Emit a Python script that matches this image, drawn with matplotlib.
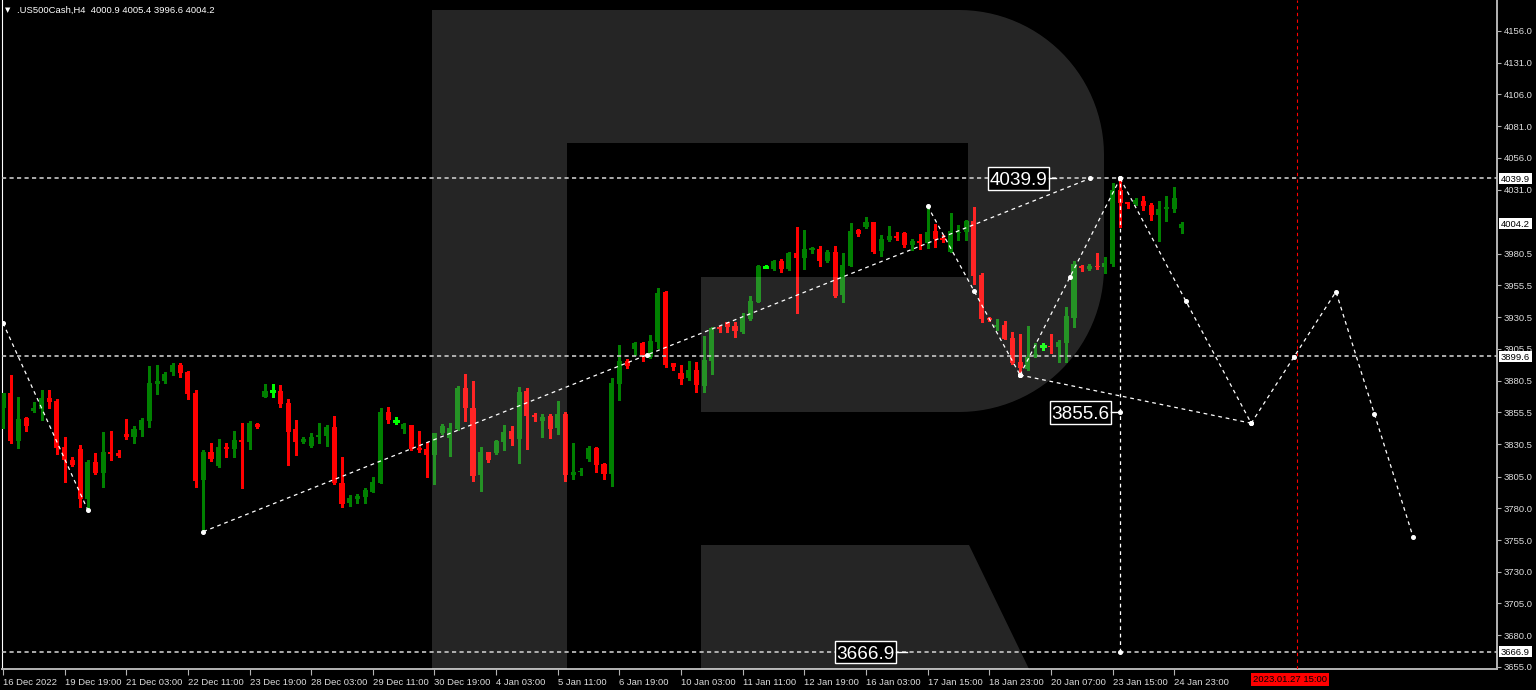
import numpy as np
import matplotlib
matplotlib.use("Agg")
import matplotlib.pyplot as plt
from matplotlib.patches import Rectangle, Polygon
from matplotlib.transforms import Affine2D, blended_transform_factory

plt.rcParams["font.family"] = ["Liberation Sans", "DejaVu Sans"]
SMALL = 6.8

# H4 candles (bar 0 = 16 Dec 2022 ... bar 153 = 25 Jan 03:00)
opens = [3858.8, 3870.6, 3833.0, 3851.2, 3856.7, 3858.0, 3867.2, 3864.5, 3828.3, 3818.3,
         3826.7, 3787.3, 3816.8, 3807.8, 3824.4, 3823.6, 3838.8, 3835.9, 3842.0, 3848.8,
         3877.7, 3880.3, 3887.7, 3892.9, 3887.4, 3870.6, 3802.6, 3824.4, 3813.6, 3828.6,
         3826.7, 3833.8, 3832.2, 3846.4, 3868.0, 3872.0, 3872.4, 3863.2, 3842.2, 3832.5,
         3829.1, 3836.4, 3837.2, 3844.1, 3800.2, 3783.9, 3787.3, 3788.7, 3793.1, 3800.2,
         3856.1, 3849.0, 3842.4, 3845.6, 3827.5, 3826.7, 3822.0, 3839.0, 3835.1, 3842.4,
         3874.7, 3858.7, 3806.2, 3824.3, 3823.3, 3832.5, 3840.9, 3834.3, 3872.4, 3853.5,
         3848.7, 3853.0, 3843.0, 3854.3, 3806.5, 3808.6, 3818.5, 3827.5, 3814.9, 3807.0,
         3877.9, 3896.0, 3905.5, 3910.2, 3898.9, 3911.2, 3950.4, 3894.2, 3886.6, 3882.4,
         3888.9, 3876.6, 3896.3, 3922.5, 3926.5, 3923.6, 3919.1, 3929.1, 3942.8, 3970.4,
         3968.2, 3975.1, 3968.5, 3980.9, 3976.9, 3983.5, 3984.3, 3974.8, 3982.2, 3948.3,
         3970.9, 3999.2, 4001.3, 4005.3, 3982.9, 3991.4, 3994.5, 3997.1, 3987.4, 3990.6,
         3989.3, 3998.2, 3993.2, 3982.2, 3996.6, 3997.9, 4006.3, 3963.8, 3930.2, 3922.6,
         3924.4, 3913.9, 3895.0, 3889.7, 3900.2, 3907.5, 3907.8, 3906.8, 3910.5, 3930.2,
         3971.1, 3968.2, 3970.6, 3970.3, 3972.2, 4030.7, 4021.0, 4019.5, 4022.3, 4018.9,
         4011.0, 4015.5, 4015.8, 4000.9]
highs = [3871.0, 3885.0, 3868.0, 3852.0, 3864.0, 3873.2, 3873.2, 3865.9, 3836.4, 3820.2,
         3829.9, 3818.1, 3823.8, 3839.9, 3841.2, 3825.9, 3850.4, 3844.9, 3850.9, 3892.4,
         3892.9, 3887.1, 3894.2, 3894.2, 3888.2, 3873.2, 3825.9, 3831.7, 3834.6, 3831.7,
         3841.2, 3847.5, 3848.5, 3847.5, 3877.9, 3877.9, 3877.1, 3865.9, 3849.6, 3836.4,
         3839.1, 3847.2, 3845.6, 3852.7, 3820.7, 3790.5, 3791.3, 3795.7, 3805.0, 3858.8,
         3860.1, 3851.7, 3847.4, 3846.0, 3841.1, 3832.5, 3839.6, 3846.4, 3846.9, 3876.3,
         3885.8, 3880.5, 3828.3, 3824.5, 3833.8, 3845.6, 3844.8, 3875.3, 3874.5, 3855.3,
         3854.3, 3854.3, 3864.5, 3856.1, 3831.2, 3811.7, 3829.0, 3828.0, 3815.4, 3882.9,
         3908.6, 3897.3, 3911.2, 3911.0, 3916.5, 3953.5, 3951.0, 3894.7, 3892.9, 3895.7,
         3895.2, 3915.7, 3923.1, 3923.6, 3927.0, 3927.0, 3933.6, 3947.2, 3971.7, 3971.7,
         3975.6, 3976.1, 3981.6, 4001.9, 3999.2, 3986.1, 3986.6, 3983.5, 3986.6, 3981.4,
         4005.0, 3999.8, 4009.7, 4005.8, 3995.3, 4002.6, 3997.9, 3997.9, 3991.9, 3995.8,
         4018.1, 4003.7, 3995.3, 4012.9, 4003.2, 4007.1, 4017.1, 3965.1, 3931.0, 3928.9,
         3927.8, 3919.1, 3917.0, 3923.6, 3910.5, 3910.0, 3917.0, 3912.6, 3938.3, 3975.1,
         3971.7, 3972.4, 3980.9, 3978.2, 4036.0, 4039.9, 4021.6, 4024.2, 4026.0, 4020.2,
         4022.3, 4026.0, 4032.8, 4005.4]
lows = [3843.0, 3831.7, 3827.8, 3841.2, 3856.1, 3849.6, 3859.3, 3822.5, 3801.0, 3813.0,
        3781.3, 3777.9, 3807.0, 3796.5, 3818.1, 3820.7, 3834.3, 3831.7, 3837.0, 3844.3,
        3870.1, 3879.0, 3885.0, 3883.7, 3866.1, 3797.1, 3761.6, 3817.5, 3812.3, 3820.7,
        3820.2, 3796.3, 3827.0, 3843.5, 3867.4, 3867.4, 3860.1, 3814.1, 3822.0, 3831.7,
        3828.6, 3831.7, 3829.1, 3798.9, 3781.3, 3782.1, 3783.9, 3784.5, 3792.6, 3799.7,
        3846.9, 3846.4, 3839.0, 3825.9, 3824.6, 3804.9, 3798.9, 3838.5, 3821.4, 3842.0,
        3848.7, 3801.5, 3793.6, 3816.7, 3822.7, 3825.9, 3829.8, 3815.4, 3826.7, 3848.7,
        3835.9, 3835.1, 3838.8, 3801.5, 3802.8, 3806.5, 3817.5, 3808.3, 3803.0, 3797.8,
        3865.3, 3890.5, 3900.5, 3895.7, 3898.5, 3906.0, 3891.5, 3888.9, 3877.6, 3881.0,
        3871.9, 3871.3, 3885.8, 3918.6, 3919.1, 3914.7, 3917.8, 3928.5, 3942.3, 3969.0,
        3967.7, 3965.9, 3967.7, 3933.6, 3968.5, 3980.9, 3971.1, 3974.3, 3946.7, 3942.2,
        3970.5, 3994.8, 4000.5, 3980.9, 3979.0, 3990.8, 3991.4, 3985.6, 3983.5, 3984.0,
        3984.8, 3986.1, 3990.0, 3981.5, 3991.4, 3991.4, 3956.7, 3926.5, 3927.5, 3920.5,
        3913.0, 3893.4, 3885.5, 3889.2, 3899.4, 3904.7, 3902.1, 3895.5, 3895.5, 3923.1,
        3967.2, 3967.7, 3968.2, 3965.1, 3971.1, 4001.9, 4016.3, 4018.9, 4015.0, 4007.1,
        3990.8, 4006.3, 4013.7, 3996.6]
closes = [3870.6, 3833.0, 3850.4, 3844.9, 3858.8, 3867.2, 3863.8, 3827.8, 3818.1, 3813.9,
          3787.3, 3816.8, 3807.6, 3824.4, 3823.1, 3821.5, 3835.9, 3842.5, 3849.6, 3878.5,
          3880.3, 3886.1, 3892.9, 3886.6, 3870.1, 3801.5, 3824.4, 3819.1, 3828.3, 3826.7,
          3833.8, 3832.5, 3847.5, 3844.1, 3872.4, 3872.0, 3862.2, 3840.4, 3832.5, 3834.6,
          3835.9, 3837.8, 3844.3, 3799.7, 3783.4, 3788.4, 3790.0, 3794.4, 3801.0, 3856.1,
          3849.6, 3849.0, 3846.1, 3826.7, 3825.9, 3822.0, 3839.0, 3845.1, 3843.2, 3874.5,
          3858.7, 3805.7, 3824.3, 3818.0, 3832.7, 3840.4, 3834.3, 3871.6, 3853.0, 3852.2,
          3851.6, 3842.4, 3854.3, 3806.2, 3808.6, 3809.6, 3827.5, 3814.1, 3807.0, 3878.4,
          3896.0, 3892.1, 3910.2, 3898.9, 3911.8, 3949.6, 3892.9, 3891.3, 3881.8, 3888.9,
          3877.1, 3896.8, 3922.3, 3921.0, 3923.1, 3919.9, 3930.2, 3943.3, 3970.9, 3970.4,
          3975.1, 3968.2, 3980.9, 3977.4, 3984.0, 3984.8, 3975.1, 3982.2, 3947.2, 3971.7,
          3998.7, 3996.1, 4005.3, 3982.2, 3992.1, 3994.8, 3992.7, 3987.4, 3990.8, 3989.3,
          3997.4, 3992.1, 3991.4, 3998.4, 3997.4, 4006.3, 3963.3, 3929.1, 3928.3, 3924.4,
          3913.4, 3894.2, 3890.3, 3899.4, 3901.5, 3907.5, 3906.8, 3911.3, 3931.7, 3972.4,
          3969.5, 3971.1, 3969.8, 3973.0, 4030.7, 4020.8, 4019.5, 4022.9, 4018.4, 4011.0,
          4015.8, 4017.1, 4024.7, 4004.2]

time_ticks = [0, 8, 16, 24, 32, 40, 48, 56, 64, 72, 80, 88, 96, 104, 112, 120, 128, 136, 144, 152]
time_labels = ["16 Dec 2022", "19 Dec 19:00", "21 Dec 03:00", "22 Dec 11:00", "23 Dec 19:00",
               "28 Dec 03:00", "29 Dec 11:00", "30 Dec 19:00", "4 Jan 03:00", "5 Jan 11:00",
               "6 Jan 19:00", "10 Jan 03:00", "11 Jan 11:00", "12 Jan 19:00", "16 Jan 03:00",
               "17 Jan 15:00", "18 Jan 23:00", "20 Jan 07:00", "23 Jan 15:00", "24 Jan 23:00"]
price_ticks = [4156.0, 4131.0, 4106.0, 4081.0, 4056.0, 4031.0, 3980.5, 3955.5, 3930.5,
               3905.5, 3880.5, 3855.5, 3830.5, 3805.0, 3780.0, 3755.0, 3730.0, 3705.0,
               3680.0, 3655.0]

# levels and forecast
levels = [4039.9, 3899.6, 3666.9]
last_price = 4004.2
target_mid = 3855.6
forecast_bar = 168
forecast_time = "2023.01.27 15:00"

left_x, left_y = [0, 11], [3926.0, 3778.7]
trend_x, trend_y = [26, 141.1], [3761.6, 4039.9]
drop_x, drop_y = [120, 132], [4018.1, 3885.0]
rise_x, rise_y = [132, 145], [3885.0, 4039.9]
base_x, base_y = [132, 162], [3885.0, 3847.0]
wave_x, wave_y = [145, 162, 173, 183], [4039.9, 3847.0, 3950.6, 3757.6]

W, H = 1536, 690
fig = plt.figure(figsize=(W / 100, H / 100), dpi=100, facecolor="black")
ax = fig.add_axes([2 / W, 21 / H, 1495 / W, 669 / H])
ax.set_facecolor("black")
ax.set_xlim(-0.13, 193.9)
ax.set_ylim(3653.4, 4180.4)

o = np.array(opens); h = np.array(highs); l = np.array(lows); c = np.array(closes)
idx = np.arange(len(o))
doji = o == c
up = (c > o) & ~doji
down = c < o
lo = np.minimum(o, c)
bh = np.maximum(np.abs(c - o), 0.8)

for m, col in [(up, "#008000"), (down, "#ff0000")]:
    ax.vlines(idx[m], l[m], h[m], color=col, lw=0.8, zorder=3, antialiased=False)
    ax.bar(idx[m], bh[m], bottom=lo[m], width=0.66, color=col, lw=0, zorder=4,
           antialiased=False)
ax.vlines(idx[doji], l[doji], h[doji], color="#00ff00", lw=0.8, zorder=3, antialiased=False)
ax.hlines(o[doji], idx[doji] - 0.35, idx[doji] + 0.35, color="#00ff00", lw=0.8, zorder=4,
          antialiased=False)

# R watermark in figure pixels (y down)
pix = Affine2D().scale(1 / W, -1 / H).translate(0, 1) + fig.transFigure
r = 145
t1 = np.linspace(np.pi / 2, 0, 30)
t2 = np.linspace(0, -np.pi / 2, 30)
outline = [(432, 10)]
outline += list(zip(1104 - r + r * np.cos(t1), 10 + r - r * np.sin(t1)))
outline += list(zip(1104 - r + r * np.cos(t2), 412 - r - r * np.sin(t2)))
outline += [(701, 412), (701, 277), (968, 277), (968, 143), (567, 143), (567, 700), (432, 700)]
leg = [(701, 545), (969, 545), (1044, 700), (701, 700)]
for shape in (outline, leg):
    ax.add_patch(Polygon(shape, closed=True, transform=pix, facecolor="white", alpha=0.15,
                         lw=0, zorder=5))

for lv in levels:
    ax.axhline(lv, color="#c8c8c8", lw=1.2, dashes=(2.5, 2), zorder=6)

ax.axvline(forecast_bar, color="#ff0000", lw=0.8, dashes=(3, 3), zorder=6)
ax.vlines(wave_x[0], levels[2], levels[0], color="white", lw=0.9, linestyles=(0, (3, 3)), zorder=6)

marks_x, marks_y = [], []
for xs, ys in [(left_x, left_y), (trend_x, trend_y), (drop_x, drop_y), (rise_x, rise_y),
               (base_x, base_y), (wave_x, wave_y)]:
    ax.plot(xs, ys, color="white", lw=0.9, dashes=(3, 3), zorder=7)
    marks_x += list(xs)
    marks_y += list(ys)
    if xs is not base_x and xs is not left_x:
        marks_x += [(a + b) / 2 for a, b in zip(xs[:-1], xs[1:])]
        marks_y += [(a + b) / 2 for a, b in zip(ys[:-1], ys[1:])]
marks_x += [wave_x[0], wave_x[0]]
marks_y += [target_mid, levels[2]]
ax.plot(marks_x, marks_y, "o", color="white", ms=2.6, zorder=8)


def big_label(xc, y, text, x_end):
    w, hh = 7.9, 17.8
    ax.add_patch(Rectangle((xc - w / 2, y - hh / 2), w, hh, facecolor="black",
                           edgecolor="white", lw=1, zorder=9))
    ax.plot([xc + w / 2, x_end], [y, y], color="white", lw=1, zorder=9)
    ax.annotate(text, (xc, y), xytext=(0, -4.8), textcoords="offset points", ha="center",
                va="baseline", color="white", fontsize=13.6, zorder=10)


big_label(131.8, levels[0], "4039.9", 136.6)
big_label(139.8, target_mid, "3855.6", 145)
big_label(111.9, levels[2], "3666.9", 117.3)

# right axis price boxes
tr = blended_transform_factory(ax.transAxes, ax.transData)
for p in [levels[0], last_price, levels[1], levels[2]]:
    ax.add_patch(Rectangle((1.0013, p - 4.3), 0.0221, 8.7, transform=tr, facecolor="white",
                           edgecolor="white", lw=0, clip_on=False, zorder=10))
    ax.annotate(f"{p:.1f}", (1.0013 + 0.0221 / 2, p), xycoords=tr, xytext=(0, -2.4),
                textcoords="offset points", ha="center", va="baseline", color="black",
                fontsize=SMALL, annotation_clip=False, zorder=11)

ax.yaxis.tick_right()
ax.set_yticks(price_ticks)
ax.set_yticklabels([f"{p:.1f}" for p in price_ticks])
ax.set_xticks(time_ticks)
ax.set_xticklabels(time_labels)
for lbl in ax.get_xticklabels():
    lbl.set_ha("left")
ax.tick_params(axis="y", direction="out", length=3, width=0.8, color="#b4b4b4", pad=2,
               labelsize=SMALL, labelcolor="#dcdcdc")
ax.tick_params(axis="x", direction="out", length=4, width=0.8, color="#b4b4b4", pad=2.5,
               labelsize=SMALL, labelcolor="#dcdcdc")
ax.spines["top"].set_visible(False)
ax.spines["left"].set_color("white")
ax.spines["left"].set_linewidth(0.8)
for s in ("right", "bottom"):
    ax.spines[s].set_color("#b4b4b4")
    ax.spines[s].set_linewidth(1.4)

xt = blended_transform_factory(ax.transData, ax.transAxes)
ax.text(forecast_bar - 1, -0.0155, forecast_time, transform=xt, ha="center", va="center",
        color="black", fontsize=SMALL,
        bbox=dict(boxstyle="square,pad=0.2", facecolor="#ff0000", edgecolor="none"))

fig.text(5 / W, 1 - 10 / H, "▼", color="white", fontsize=5, family="DejaVu Sans", va="center")
fig.text(17 / W, 1 - 10 / H, ".US500Cash,H4  4000.9 4005.4 3996.6 4004.2", color="white",
         fontsize=SMALL, va="center")

fig.savefig("out.png", dpi=100, facecolor="black")
